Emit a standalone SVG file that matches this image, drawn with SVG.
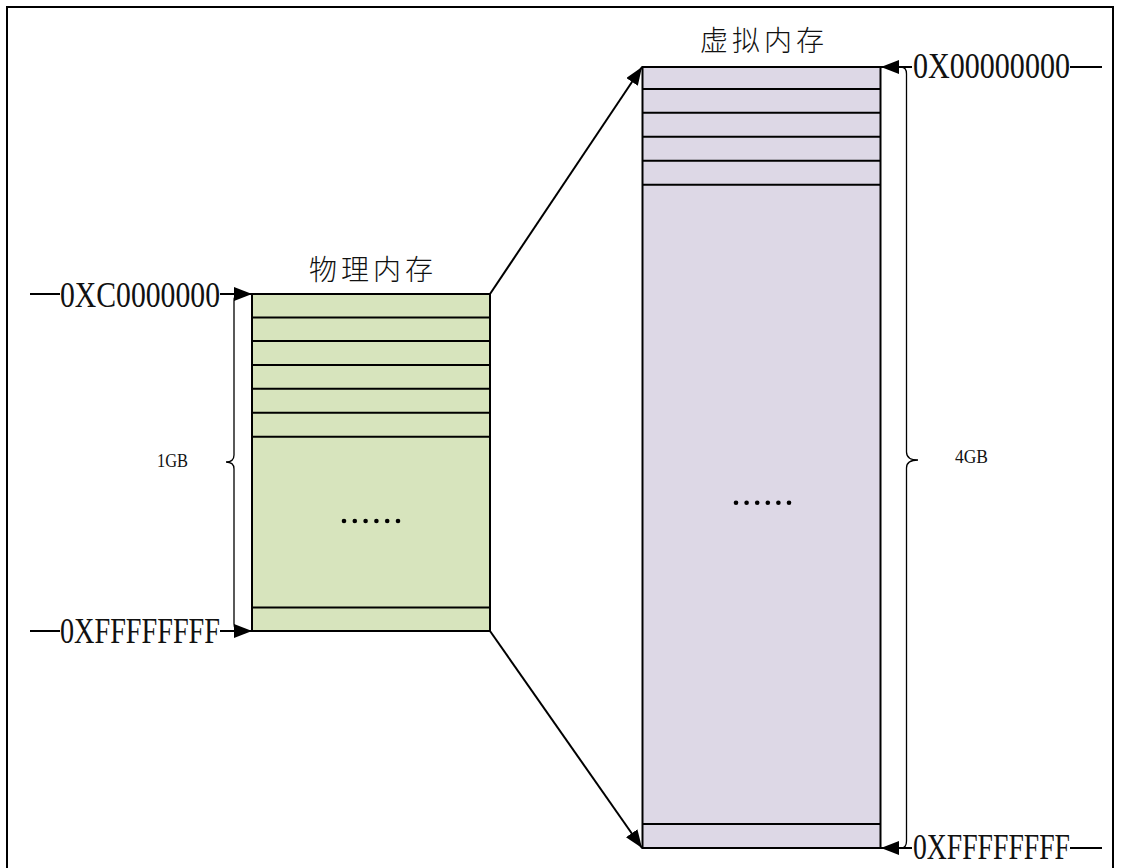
<svg xmlns="http://www.w3.org/2000/svg" width="1121" height="868" viewBox="0 0 1121 868">
<defs>
<marker id="ah" viewBox="0 0 10 10" refX="10" refY="5" markerWidth="18" markerHeight="14" markerUnits="userSpaceOnUse" orient="auto" preserveAspectRatio="none"><path d="M0,0 L10,5 L0,10 z" fill="#000"/></marker>
<style>
.cn{font-family:"Noto Sans CJK SC","Noto Sans CJK JP",sans-serif;font-size:28px;font-weight:300;letter-spacing:4px;fill:#111}
.hex{font-family:"Liberation Serif",serif;font-size:35px;fill:#111}
.sz{font-family:"Liberation Serif",serif;font-size:18px;fill:#111}
.ln{stroke:#000;stroke-width:2;fill:none}
.thin{stroke:#000;stroke-width:1.3;fill:none}
</style>
</defs>
<rect width="1121" height="868" fill="#fff"/>
<path d="M7,870 L7,7 L1113,7 L1113,870" fill="none" stroke="#000" stroke-width="2"/>
<g id="physical">
<rect x="252" y="294" width="238" height="337" fill="#D7E4BD" stroke="#000" stroke-width="2"/>
<path class="ln" d="M252,317.5H490M252,341H490M252,365H490M252,388.7H490M252,412.7H490M252,436.7H490M252,607.5H490"/>
<text class="cn" x="373" y="280" text-anchor="middle">物理内存</text>
<g fill="#000"><circle cx="344" cy="521" r="2.3"/><circle cx="354.8" cy="521" r="2.3"/><circle cx="365.6" cy="521" r="2.3"/><circle cx="376.4" cy="521" r="2.3"/><circle cx="387.2" cy="521" r="2.3"/><circle cx="398" cy="521" r="2.3"/></g>
</g>
<g id="virtual">
<rect x="642.5" y="67" width="238" height="781" fill="#DDD8E6" stroke="#000" stroke-width="2"/>
<path class="ln" d="M642.5,89H880.5M642.5,112.7H880.5M642.5,136.7H880.5M642.5,160.7H880.5M642.5,184.7H880.5M642.5,824H880.5"/>
<text class="cn" x="764" y="51" text-anchor="middle">虚拟内存</text>
<g fill="#000"><circle cx="736" cy="502.7" r="2.3"/><circle cx="746.6" cy="502.7" r="2.3"/><circle cx="757.2" cy="502.7" r="2.3"/><circle cx="767.8" cy="502.7" r="2.3"/><circle cx="778.4" cy="502.7" r="2.3"/><circle cx="789" cy="502.7" r="2.3"/></g>
</g>
<g id="label-phys-top">
<path class="ln" d="M30,294H60"/>
<text class="hex" x="60" y="307" textLength="160" lengthAdjust="spacingAndGlyphs">0XC0000000</text>
</g>
<g id="label-phys-bottom">
<path class="ln" d="M30,631H60"/>
<text class="hex" x="60" y="643" textLength="160" lengthAdjust="spacingAndGlyphs">0XFFFFFFFF</text>
</g>
<g id="label-virt-top">
<text class="hex" x="913" y="78" textLength="157" lengthAdjust="spacingAndGlyphs">0X00000000</text>
<path class="ln" d="M1070,67H1102"/>
</g>
<g id="label-virt-bottom">
<text class="hex" x="913" y="859" textLength="157" lengthAdjust="spacingAndGlyphs">0XFFFFFFFF</text>
<path class="ln" d="M1070,848H1102"/>
</g>
<g id="size-1gb">
<path class="thin" d="M241,294 Q234,294 234,301 L234,455 Q234,462 226,462 Q234,462 234,469 L234,624 Q234,631 241,631"/>
<text class="sz" x="157" y="467" textLength="31" lengthAdjust="spacingAndGlyphs">1GB</text>
</g>
<g id="size-4gb">
<path class="thin" d="M901,67 Q906.5,67 906.5,74 L906.5,452 Q906.5,460 918,460 Q906.5,460 906.5,468 L906.5,841 Q906.5,848 901,848"/>
<text class="sz" x="955" y="463" textLength="33" lengthAdjust="spacingAndGlyphs">4GB</text>
</g>
<g id="connectors">
<line class="ln" x1="220" y1="294" x2="252" y2="294" marker-end="url(#ah)"/>
<line class="ln" x1="220" y1="631" x2="252" y2="631" marker-end="url(#ah)"/>
<line class="ln" x1="912" y1="67" x2="881" y2="67" marker-end="url(#ah)"/>
<line class="ln" x1="912" y1="848" x2="881" y2="848" marker-end="url(#ah)"/>
<line class="ln" x1="490" y1="294" x2="642" y2="67" marker-end="url(#ah)"/>
<line class="ln" x1="490" y1="631" x2="642" y2="848" marker-end="url(#ah)"/>
</g>
</svg>
